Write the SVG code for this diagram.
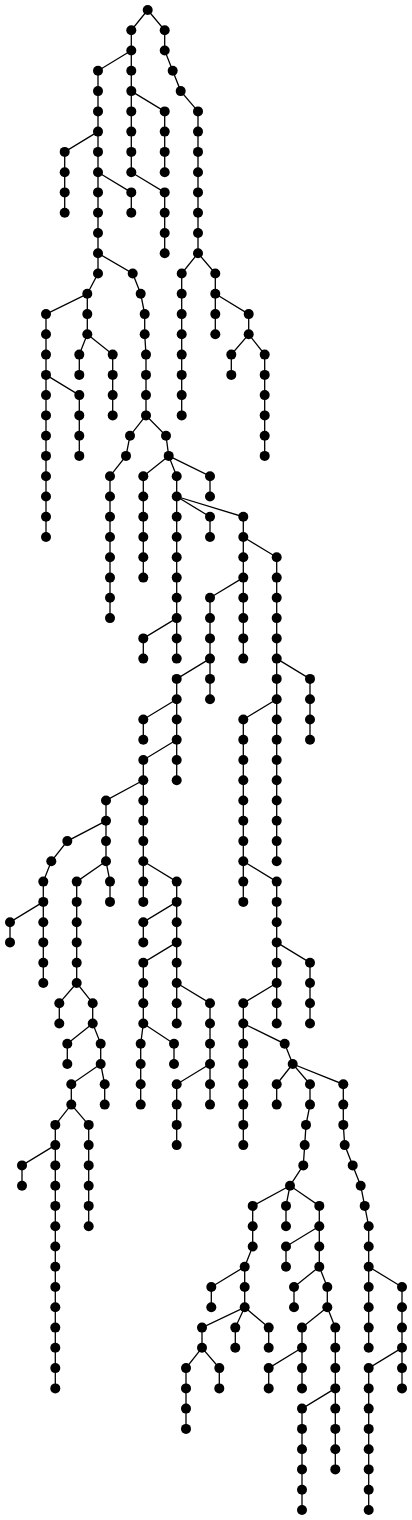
<svg xmlns="http://www.w3.org/2000/svg" width="412" height="1520" viewBox="0 0 412 1520">
<style>
.e path{fill:none;stroke:#000;stroke-width:1.3}
.n circle{fill:#000}
</style>
<rect width="412" height="1520" fill="#fff"/>
<g id="connectors" class="e">
<path d="M147.7 10 L131.3 30.3 V172.2 L164.7 192.4 V253.2"/>
<path d="M147.7 10 L164.7 30.3 V50.5 L172.7 70.8 L180.7 91.1 L198 111.4 V253.2"/>
<path d="M131.3 50.5 L98 70.8 V273.5 L87.3 293.8 V334.3 L112.7 354.6 V415.4"/>
<path d="M98 131.6 L64.7 151.9 V212.7"/>
<path d="M131.3 91.1 L164.7 111.4 V172.2"/>
<path d="M98 172.2 L131.3 192.4 V212.7"/>
<path d="M98 253.2 L132.7 273.5 L140.7 293.8 L144.7 314.1 V334.3 L146 354.6 V415.4 L166 435.7 L168.7 455.9 L176.7 476.2 V658.6"/>
<path d="M87.3 293.8 L46 314.1 V537"/>
<path d="M87.3 334.3 L79.3 354.6 V374.9"/>
<path d="M46 374.9 L79.3 395.1 V455.9"/>
<path d="M198 253.2 L181.7 273.5 V415.4"/>
<path d="M198 253.2 L215.3 273.5 V334.3"/>
<path d="M215.3 293.8 L248.7 314.1 V334.3 L264.7 354.6 V455.9"/>
<path d="M248.7 334.3 L231.3 354.6 V374.9"/>
<path d="M146 415.4 L130 435.7 L126 455.9 L110 476.2 V618.1"/>
<path d="M168.7 455.9 L143.3 476.2 V577.6"/>
<path d="M168.7 455.9 L210 476.2 V496.5"/>
<path d="M176.7 496.5 L210 516.8 V537"/>
<path d="M176.7 496.5 L243.3 516.8 V658.6"/>
<path d="M176.7 618.1 L143.3 638.4 V658.6"/>
<path d="M243.3 537 L276.7 557.3 V861.3"/>
<path d="M243.3 577.6 L210 597.8 V699.2"/>
<path d="M210 658.6 L176.7 678.9 V780.3"/>
<path d="M276.7 658.6 L310 678.9 V739.7"/>
<path d="M176.7 699.2 L143.3 719.5 V739.7"/>
<path d="M276.7 699.2 L243.3 719.5 V901.9"/>
<path d="M176.7 739.7 L143.3 760 V901.9"/>
<path d="M143.3 780.3 L106 800.5 V861.3 L110 881.6 V901.9"/>
<path d="M106 820.8 L67.3 841.1 L51.3 861.3 L43.3 881.6 V983"/>
<path d="M106 861.3 L76.7 881.6 V983 L92.7 1003.2 V1023.5 L100.7 1043.8 V1064 L71.3 1084.3 V1104.6 L55.3 1124.9 V1388.4"/>
<path d="M143.3 861.3 L176.7 881.6 V1023.5"/>
<path d="M243.3 861.3 L276.7 881.6 V1023.5"/>
<path d="M43.3 901.9 L10 922.2 V942.4"/>
<path d="M176.7 901.9 L143.3 922.2 V942.4"/>
<path d="M176.7 942.4 L143.3 962.7 V1023.5 L140.7 1043.8 V1104.6"/>
<path d="M276.7 942.4 L310 962.7 V1023.5"/>
<path d="M76.7 983 L59.3 1003.2 V1023.5"/>
<path d="M176.7 983 L210 1003.2 V1104.6"/>
<path d="M276.7 983 L243.3 1003.2 V1145.1"/>
<path d="M92.7 1023.5 L67.3 1043.8 V1064"/>
<path d="M143.3 1023.5 L174 1043.8 V1064"/>
<path d="M243.3 1023.5 L284.7 1043.8 L292.7 1064 L310 1084.3 V1104.6 L306 1124.9 L304.7 1145.1 L303.3 1165.4 L290 1185.7 L319.3 1205.9 V1266.7 L327.3 1287 V1307.3 L335.3 1327.6 V1469.4"/>
<path d="M100.7 1064 L104.7 1084.3 V1104.6"/>
<path d="M210 1064 L176.7 1084.3 V1145.1"/>
<path d="M292.7 1064 L276.7 1084.3 V1104.6"/>
<path d="M292.7 1064 L343.3 1084.3 V1124.9 L344.7 1145.1 L352.7 1165.4 L360.7 1185.7 L364.7 1205.9 L368.7 1226.2 V1347.8"/>
<path d="M71.3 1104.6 L88.7 1124.9 V1226.2"/>
<path d="M55.3 1145.1 L22 1165.4 V1185.7"/>
<path d="M290 1185.7 L252.7 1205.9 V1246.5 L244.7 1266.7 V1307.3 L202 1327.6 V1347.8 L186 1368.1 V1428.9"/>
<path d="M290 1185.7 L286 1205.9 V1226.2"/>
<path d="M319.3 1226.2 L286 1246.5 V1266.7"/>
<path d="M244.7 1266.7 L211.3 1287 V1307.3"/>
<path d="M319.3 1266.7 L294 1287 V1307.3"/>
<path d="M368.7 1266.7 L402 1287 V1347.8 L368.7 1368.1 V1510"/>
<path d="M402 1347.8 V1388.4"/>
<path d="M244.7 1307.3 L235.3 1327.6 V1347.8"/>
<path d="M244.7 1307.3 L268.7 1327.6 V1347.8"/>
<path d="M327.3 1307.3 L302 1327.6 V1388.4"/>
<path d="M302 1347.8 L268.7 1368.1 V1388.4"/>
<path d="M335.3 1388.4 L302 1408.6 V1510"/>
<path d="M202 1347.8 L219.3 1368.1 V1388.4"/>
</g>
<g id="nodes" class="n">
<g id="n0_148"><circle cx="147.7" cy="10" r="5"/></g>
<g id="n1_131"><circle cx="131.3" cy="30.3" r="5"/></g>
<g id="n1_165"><circle cx="164.7" cy="30.3" r="5"/></g>
<g id="n2_131"><circle cx="131.3" cy="50.5" r="5"/></g>
<g id="n2_165"><circle cx="164.7" cy="50.5" r="5"/></g>
<g id="n3_98"><circle cx="98" cy="70.8" r="5"/></g>
<g id="n3_131"><circle cx="131.3" cy="70.8" r="5"/></g>
<g id="n3_173"><circle cx="172.7" cy="70.8" r="5"/></g>
<g id="n4_98"><circle cx="98" cy="91.1" r="5"/></g>
<g id="n4_131"><circle cx="131.3" cy="91.1" r="5"/></g>
<g id="n4_181"><circle cx="180.7" cy="91.1" r="5"/></g>
<g id="n5_98"><circle cx="98" cy="111.4" r="5"/></g>
<g id="n5_131"><circle cx="131.3" cy="111.4" r="5"/></g>
<g id="n5_165"><circle cx="164.7" cy="111.4" r="5"/></g>
<g id="n5_198"><circle cx="198" cy="111.4" r="5"/></g>
<g id="n6_98"><circle cx="98" cy="131.6" r="5"/></g>
<g id="n6_131"><circle cx="131.3" cy="131.6" r="5"/></g>
<g id="n6_165"><circle cx="164.7" cy="131.6" r="5"/></g>
<g id="n6_198"><circle cx="198" cy="131.6" r="5"/></g>
<g id="n7_65"><circle cx="64.7" cy="151.9" r="5"/></g>
<g id="n7_98"><circle cx="98" cy="151.9" r="5"/></g>
<g id="n7_131"><circle cx="131.3" cy="151.9" r="5"/></g>
<g id="n7_165"><circle cx="164.7" cy="151.9" r="5"/></g>
<g id="n7_198"><circle cx="198" cy="151.9" r="5"/></g>
<g id="n8_65"><circle cx="64.7" cy="172.2" r="5"/></g>
<g id="n8_98"><circle cx="98" cy="172.2" r="5"/></g>
<g id="n8_131"><circle cx="131.3" cy="172.2" r="5"/></g>
<g id="n8_165"><circle cx="164.7" cy="172.2" r="5"/></g>
<g id="n8_198"><circle cx="198" cy="172.2" r="5"/></g>
<g id="n9_65"><circle cx="64.7" cy="192.4" r="5"/></g>
<g id="n9_98"><circle cx="98" cy="192.4" r="5"/></g>
<g id="n9_131"><circle cx="131.3" cy="192.4" r="5"/></g>
<g id="n9_165"><circle cx="164.7" cy="192.4" r="5"/></g>
<g id="n9_198"><circle cx="198" cy="192.4" r="5"/></g>
<g id="n10_65"><circle cx="64.7" cy="212.7" r="5"/></g>
<g id="n10_98"><circle cx="98" cy="212.7" r="5"/></g>
<g id="n10_131"><circle cx="131.3" cy="212.7" r="5"/></g>
<g id="n10_165"><circle cx="164.7" cy="212.7" r="5"/></g>
<g id="n10_198"><circle cx="198" cy="212.7" r="5"/></g>
<g id="n11_98"><circle cx="98" cy="233" r="5"/></g>
<g id="n11_165"><circle cx="164.7" cy="233" r="5"/></g>
<g id="n11_198"><circle cx="198" cy="233" r="5"/></g>
<g id="n12_98"><circle cx="98" cy="253.2" r="5"/></g>
<g id="n12_165"><circle cx="164.7" cy="253.2" r="5"/></g>
<g id="n12_198"><circle cx="198" cy="253.2" r="5"/></g>
<g id="n13_98"><circle cx="98" cy="273.5" r="5"/></g>
<g id="n13_133"><circle cx="132.7" cy="273.5" r="5"/></g>
<g id="n13_182"><circle cx="181.7" cy="273.5" r="5"/></g>
<g id="n13_215"><circle cx="215.3" cy="273.5" r="5"/></g>
<g id="n14_87"><circle cx="87.3" cy="293.8" r="5"/></g>
<g id="n14_141"><circle cx="140.7" cy="293.8" r="5"/></g>
<g id="n14_182"><circle cx="181.7" cy="293.8" r="5"/></g>
<g id="n14_215"><circle cx="215.3" cy="293.8" r="5"/></g>
<g id="n15_46"><circle cx="46" cy="314.1" r="5"/></g>
<g id="n15_87"><circle cx="87.3" cy="314.1" r="5"/></g>
<g id="n15_145"><circle cx="144.7" cy="314.1" r="5"/></g>
<g id="n15_182"><circle cx="181.7" cy="314.1" r="5"/></g>
<g id="n15_215"><circle cx="215.3" cy="314.1" r="5"/></g>
<g id="n15_249"><circle cx="248.7" cy="314.1" r="5"/></g>
<g id="n16_46"><circle cx="46" cy="334.3" r="5"/></g>
<g id="n16_87"><circle cx="87.3" cy="334.3" r="5"/></g>
<g id="n16_145"><circle cx="144.7" cy="334.3" r="5"/></g>
<g id="n16_182"><circle cx="181.7" cy="334.3" r="5"/></g>
<g id="n16_215"><circle cx="215.3" cy="334.3" r="5"/></g>
<g id="n16_249"><circle cx="248.7" cy="334.3" r="5"/></g>
<g id="n17_46"><circle cx="46" cy="354.6" r="5"/></g>
<g id="n17_79"><circle cx="79.3" cy="354.6" r="5"/></g>
<g id="n17_113"><circle cx="112.7" cy="354.6" r="5"/></g>
<g id="n17_146"><circle cx="146" cy="354.6" r="5"/></g>
<g id="n17_182"><circle cx="181.7" cy="354.6" r="5"/></g>
<g id="n17_231"><circle cx="231.3" cy="354.6" r="5"/></g>
<g id="n17_265"><circle cx="264.7" cy="354.6" r="5"/></g>
<g id="n18_46"><circle cx="46" cy="374.9" r="5"/></g>
<g id="n18_79"><circle cx="79.3" cy="374.9" r="5"/></g>
<g id="n18_113"><circle cx="112.7" cy="374.9" r="5"/></g>
<g id="n18_146"><circle cx="146" cy="374.9" r="5"/></g>
<g id="n18_182"><circle cx="181.7" cy="374.9" r="5"/></g>
<g id="n18_231"><circle cx="231.3" cy="374.9" r="5"/></g>
<g id="n18_265"><circle cx="264.7" cy="374.9" r="5"/></g>
<g id="n19_46"><circle cx="46" cy="395.1" r="5"/></g>
<g id="n19_79"><circle cx="79.3" cy="395.1" r="5"/></g>
<g id="n19_113"><circle cx="112.7" cy="395.1" r="5"/></g>
<g id="n19_146"><circle cx="146" cy="395.1" r="5"/></g>
<g id="n19_182"><circle cx="181.7" cy="395.1" r="5"/></g>
<g id="n19_265"><circle cx="264.7" cy="395.1" r="5"/></g>
<g id="n20_46"><circle cx="46" cy="415.4" r="5"/></g>
<g id="n20_79"><circle cx="79.3" cy="415.4" r="5"/></g>
<g id="n20_113"><circle cx="112.7" cy="415.4" r="5"/></g>
<g id="n20_146"><circle cx="146" cy="415.4" r="5"/></g>
<g id="n20_182"><circle cx="181.7" cy="415.4" r="5"/></g>
<g id="n20_265"><circle cx="264.7" cy="415.4" r="5"/></g>
<g id="n21_46"><circle cx="46" cy="435.7" r="5"/></g>
<g id="n21_79"><circle cx="79.3" cy="435.7" r="5"/></g>
<g id="n21_130"><circle cx="130" cy="435.7" r="5"/></g>
<g id="n21_166"><circle cx="166" cy="435.7" r="5"/></g>
<g id="n21_265"><circle cx="264.7" cy="435.7" r="5"/></g>
<g id="n22_46"><circle cx="46" cy="455.9" r="5"/></g>
<g id="n22_79"><circle cx="79.3" cy="455.9" r="5"/></g>
<g id="n22_126"><circle cx="126" cy="455.9" r="5"/></g>
<g id="n22_169"><circle cx="168.7" cy="455.9" r="5"/></g>
<g id="n22_265"><circle cx="264.7" cy="455.9" r="5"/></g>
<g id="n23_46"><circle cx="46" cy="476.2" r="5"/></g>
<g id="n23_110"><circle cx="110" cy="476.2" r="5"/></g>
<g id="n23_143"><circle cx="143.3" cy="476.2" r="5"/></g>
<g id="n23_177"><circle cx="176.7" cy="476.2" r="5"/></g>
<g id="n23_210"><circle cx="210" cy="476.2" r="5"/></g>
<g id="n24_46"><circle cx="46" cy="496.5" r="5"/></g>
<g id="n24_110"><circle cx="110" cy="496.5" r="5"/></g>
<g id="n24_143"><circle cx="143.3" cy="496.5" r="5"/></g>
<g id="n24_177"><circle cx="176.7" cy="496.5" r="5"/></g>
<g id="n24_210"><circle cx="210" cy="496.5" r="5"/></g>
<g id="n25_46"><circle cx="46" cy="516.8" r="5"/></g>
<g id="n25_110"><circle cx="110" cy="516.8" r="5"/></g>
<g id="n25_143"><circle cx="143.3" cy="516.8" r="5"/></g>
<g id="n25_177"><circle cx="176.7" cy="516.8" r="5"/></g>
<g id="n25_210"><circle cx="210" cy="516.8" r="5"/></g>
<g id="n25_243"><circle cx="243.3" cy="516.8" r="5"/></g>
<g id="n26_46"><circle cx="46" cy="537" r="5"/></g>
<g id="n26_110"><circle cx="110" cy="537" r="5"/></g>
<g id="n26_143"><circle cx="143.3" cy="537" r="5"/></g>
<g id="n26_177"><circle cx="176.7" cy="537" r="5"/></g>
<g id="n26_210"><circle cx="210" cy="537" r="5"/></g>
<g id="n26_243"><circle cx="243.3" cy="537" r="5"/></g>
<g id="n27_110"><circle cx="110" cy="557.3" r="5"/></g>
<g id="n27_143"><circle cx="143.3" cy="557.3" r="5"/></g>
<g id="n27_177"><circle cx="176.7" cy="557.3" r="5"/></g>
<g id="n27_243"><circle cx="243.3" cy="557.3" r="5"/></g>
<g id="n27_277"><circle cx="276.7" cy="557.3" r="5"/></g>
<g id="n28_110"><circle cx="110" cy="577.6" r="5"/></g>
<g id="n28_143"><circle cx="143.3" cy="577.6" r="5"/></g>
<g id="n28_177"><circle cx="176.7" cy="577.6" r="5"/></g>
<g id="n28_243"><circle cx="243.3" cy="577.6" r="5"/></g>
<g id="n28_277"><circle cx="276.7" cy="577.6" r="5"/></g>
<g id="n29_110"><circle cx="110" cy="597.8" r="5"/></g>
<g id="n29_177"><circle cx="176.7" cy="597.8" r="5"/></g>
<g id="n29_210"><circle cx="210" cy="597.8" r="5"/></g>
<g id="n29_243"><circle cx="243.3" cy="597.8" r="5"/></g>
<g id="n29_277"><circle cx="276.7" cy="597.8" r="5"/></g>
<g id="n30_110"><circle cx="110" cy="618.1" r="5"/></g>
<g id="n30_177"><circle cx="176.7" cy="618.1" r="5"/></g>
<g id="n30_210"><circle cx="210" cy="618.1" r="5"/></g>
<g id="n30_243"><circle cx="243.3" cy="618.1" r="5"/></g>
<g id="n30_277"><circle cx="276.7" cy="618.1" r="5"/></g>
<g id="n31_143"><circle cx="143.3" cy="638.4" r="5"/></g>
<g id="n31_177"><circle cx="176.7" cy="638.4" r="5"/></g>
<g id="n31_210"><circle cx="210" cy="638.4" r="5"/></g>
<g id="n31_243"><circle cx="243.3" cy="638.4" r="5"/></g>
<g id="n31_277"><circle cx="276.7" cy="638.4" r="5"/></g>
<g id="n32_143"><circle cx="143.3" cy="658.6" r="5"/></g>
<g id="n32_177"><circle cx="176.7" cy="658.6" r="5"/></g>
<g id="n32_210"><circle cx="210" cy="658.6" r="5"/></g>
<g id="n32_243"><circle cx="243.3" cy="658.6" r="5"/></g>
<g id="n32_277"><circle cx="276.7" cy="658.6" r="5"/></g>
<g id="n33_177"><circle cx="176.7" cy="678.9" r="5"/></g>
<g id="n33_210"><circle cx="210" cy="678.9" r="5"/></g>
<g id="n33_277"><circle cx="276.7" cy="678.9" r="5"/></g>
<g id="n33_310"><circle cx="310" cy="678.9" r="5"/></g>
<g id="n34_177"><circle cx="176.7" cy="699.2" r="5"/></g>
<g id="n34_210"><circle cx="210" cy="699.2" r="5"/></g>
<g id="n34_277"><circle cx="276.7" cy="699.2" r="5"/></g>
<g id="n34_310"><circle cx="310" cy="699.2" r="5"/></g>
<g id="n35_143"><circle cx="143.3" cy="719.5" r="5"/></g>
<g id="n35_177"><circle cx="176.7" cy="719.5" r="5"/></g>
<g id="n35_243"><circle cx="243.3" cy="719.5" r="5"/></g>
<g id="n35_277"><circle cx="276.7" cy="719.5" r="5"/></g>
<g id="n35_310"><circle cx="310" cy="719.5" r="5"/></g>
<g id="n36_143"><circle cx="143.3" cy="739.7" r="5"/></g>
<g id="n36_177"><circle cx="176.7" cy="739.7" r="5"/></g>
<g id="n36_243"><circle cx="243.3" cy="739.7" r="5"/></g>
<g id="n36_277"><circle cx="276.7" cy="739.7" r="5"/></g>
<g id="n36_310"><circle cx="310" cy="739.7" r="5"/></g>
<g id="n37_143"><circle cx="143.3" cy="760" r="5"/></g>
<g id="n37_177"><circle cx="176.7" cy="760" r="5"/></g>
<g id="n37_243"><circle cx="243.3" cy="760" r="5"/></g>
<g id="n37_277"><circle cx="276.7" cy="760" r="5"/></g>
<g id="n38_143"><circle cx="143.3" cy="780.3" r="5"/></g>
<g id="n38_177"><circle cx="176.7" cy="780.3" r="5"/></g>
<g id="n38_243"><circle cx="243.3" cy="780.3" r="5"/></g>
<g id="n38_277"><circle cx="276.7" cy="780.3" r="5"/></g>
<g id="n39_106"><circle cx="106" cy="800.5" r="5"/></g>
<g id="n39_143"><circle cx="143.3" cy="800.5" r="5"/></g>
<g id="n39_243"><circle cx="243.3" cy="800.5" r="5"/></g>
<g id="n39_277"><circle cx="276.7" cy="800.5" r="5"/></g>
<g id="n40_106"><circle cx="106" cy="820.8" r="5"/></g>
<g id="n40_143"><circle cx="143.3" cy="820.8" r="5"/></g>
<g id="n40_243"><circle cx="243.3" cy="820.8" r="5"/></g>
<g id="n40_277"><circle cx="276.7" cy="820.8" r="5"/></g>
<g id="n41_67"><circle cx="67.3" cy="841.1" r="5"/></g>
<g id="n41_106"><circle cx="106" cy="841.1" r="5"/></g>
<g id="n41_143"><circle cx="143.3" cy="841.1" r="5"/></g>
<g id="n41_243"><circle cx="243.3" cy="841.1" r="5"/></g>
<g id="n41_277"><circle cx="276.7" cy="841.1" r="5"/></g>
<g id="n42_51"><circle cx="51.3" cy="861.3" r="5"/></g>
<g id="n42_106"><circle cx="106" cy="861.3" r="5"/></g>
<g id="n42_143"><circle cx="143.3" cy="861.3" r="5"/></g>
<g id="n42_243"><circle cx="243.3" cy="861.3" r="5"/></g>
<g id="n42_277"><circle cx="276.7" cy="861.3" r="5"/></g>
<g id="n43_43"><circle cx="43.3" cy="881.6" r="5"/></g>
<g id="n43_77"><circle cx="76.7" cy="881.6" r="5"/></g>
<g id="n43_110"><circle cx="110" cy="881.6" r="5"/></g>
<g id="n43_143"><circle cx="143.3" cy="881.6" r="5"/></g>
<g id="n43_177"><circle cx="176.7" cy="881.6" r="5"/></g>
<g id="n43_243"><circle cx="243.3" cy="881.6" r="5"/></g>
<g id="n43_277"><circle cx="276.7" cy="881.6" r="5"/></g>
<g id="n44_43"><circle cx="43.3" cy="901.9" r="5"/></g>
<g id="n44_77"><circle cx="76.7" cy="901.9" r="5"/></g>
<g id="n44_110"><circle cx="110" cy="901.9" r="5"/></g>
<g id="n44_143"><circle cx="143.3" cy="901.9" r="5"/></g>
<g id="n44_177"><circle cx="176.7" cy="901.9" r="5"/></g>
<g id="n44_243"><circle cx="243.3" cy="901.9" r="5"/></g>
<g id="n44_277"><circle cx="276.7" cy="901.9" r="5"/></g>
<g id="n45_10"><circle cx="10" cy="922.2" r="5"/></g>
<g id="n45_43"><circle cx="43.3" cy="922.2" r="5"/></g>
<g id="n45_77"><circle cx="76.7" cy="922.2" r="5"/></g>
<g id="n45_143"><circle cx="143.3" cy="922.2" r="5"/></g>
<g id="n45_177"><circle cx="176.7" cy="922.2" r="5"/></g>
<g id="n45_277"><circle cx="276.7" cy="922.2" r="5"/></g>
<g id="n46_10"><circle cx="10" cy="942.4" r="5"/></g>
<g id="n46_43"><circle cx="43.3" cy="942.4" r="5"/></g>
<g id="n46_77"><circle cx="76.7" cy="942.4" r="5"/></g>
<g id="n46_143"><circle cx="143.3" cy="942.4" r="5"/></g>
<g id="n46_177"><circle cx="176.7" cy="942.4" r="5"/></g>
<g id="n46_277"><circle cx="276.7" cy="942.4" r="5"/></g>
<g id="n47_43"><circle cx="43.3" cy="962.7" r="5"/></g>
<g id="n47_77"><circle cx="76.7" cy="962.7" r="5"/></g>
<g id="n47_143"><circle cx="143.3" cy="962.7" r="5"/></g>
<g id="n47_177"><circle cx="176.7" cy="962.7" r="5"/></g>
<g id="n47_277"><circle cx="276.7" cy="962.7" r="5"/></g>
<g id="n47_310"><circle cx="310" cy="962.7" r="5"/></g>
<g id="n48_43"><circle cx="43.3" cy="983" r="5"/></g>
<g id="n48_77"><circle cx="76.7" cy="983" r="5"/></g>
<g id="n48_143"><circle cx="143.3" cy="983" r="5"/></g>
<g id="n48_177"><circle cx="176.7" cy="983" r="5"/></g>
<g id="n48_277"><circle cx="276.7" cy="983" r="5"/></g>
<g id="n48_310"><circle cx="310" cy="983" r="5"/></g>
<g id="n49_59"><circle cx="59.3" cy="1003.2" r="5"/></g>
<g id="n49_93"><circle cx="92.7" cy="1003.2" r="5"/></g>
<g id="n49_143"><circle cx="143.3" cy="1003.2" r="5"/></g>
<g id="n49_177"><circle cx="176.7" cy="1003.2" r="5"/></g>
<g id="n49_210"><circle cx="210" cy="1003.2" r="5"/></g>
<g id="n49_243"><circle cx="243.3" cy="1003.2" r="5"/></g>
<g id="n49_277"><circle cx="276.7" cy="1003.2" r="5"/></g>
<g id="n49_310"><circle cx="310" cy="1003.2" r="5"/></g>
<g id="n50_59"><circle cx="59.3" cy="1023.5" r="5"/></g>
<g id="n50_93"><circle cx="92.7" cy="1023.5" r="5"/></g>
<g id="n50_143"><circle cx="143.3" cy="1023.5" r="5"/></g>
<g id="n50_177"><circle cx="176.7" cy="1023.5" r="5"/></g>
<g id="n50_210"><circle cx="210" cy="1023.5" r="5"/></g>
<g id="n50_243"><circle cx="243.3" cy="1023.5" r="5"/></g>
<g id="n50_277"><circle cx="276.7" cy="1023.5" r="5"/></g>
<g id="n50_310"><circle cx="310" cy="1023.5" r="5"/></g>
<g id="n51_67"><circle cx="67.3" cy="1043.8" r="5"/></g>
<g id="n51_101"><circle cx="100.7" cy="1043.8" r="5"/></g>
<g id="n51_141"><circle cx="140.7" cy="1043.8" r="5"/></g>
<g id="n51_174"><circle cx="174" cy="1043.8" r="5"/></g>
<g id="n51_210"><circle cx="210" cy="1043.8" r="5"/></g>
<g id="n51_243"><circle cx="243.3" cy="1043.8" r="5"/></g>
<g id="n51_285"><circle cx="284.7" cy="1043.8" r="5"/></g>
<g id="n52_67"><circle cx="67.3" cy="1064" r="5"/></g>
<g id="n52_101"><circle cx="100.7" cy="1064" r="5"/></g>
<g id="n52_141"><circle cx="140.7" cy="1064" r="5"/></g>
<g id="n52_174"><circle cx="174" cy="1064" r="5"/></g>
<g id="n52_210"><circle cx="210" cy="1064" r="5"/></g>
<g id="n52_243"><circle cx="243.3" cy="1064" r="5"/></g>
<g id="n52_293"><circle cx="292.7" cy="1064" r="5"/></g>
<g id="n53_71"><circle cx="71.3" cy="1084.3" r="5"/></g>
<g id="n53_105"><circle cx="104.7" cy="1084.3" r="5"/></g>
<g id="n53_141"><circle cx="140.7" cy="1084.3" r="5"/></g>
<g id="n53_177"><circle cx="176.7" cy="1084.3" r="5"/></g>
<g id="n53_210"><circle cx="210" cy="1084.3" r="5"/></g>
<g id="n53_243"><circle cx="243.3" cy="1084.3" r="5"/></g>
<g id="n53_277"><circle cx="276.7" cy="1084.3" r="5"/></g>
<g id="n53_310"><circle cx="310" cy="1084.3" r="5"/></g>
<g id="n53_343"><circle cx="343.3" cy="1084.3" r="5"/></g>
<g id="n54_71"><circle cx="71.3" cy="1104.6" r="5"/></g>
<g id="n54_105"><circle cx="104.7" cy="1104.6" r="5"/></g>
<g id="n54_141"><circle cx="140.7" cy="1104.6" r="5"/></g>
<g id="n54_177"><circle cx="176.7" cy="1104.6" r="5"/></g>
<g id="n54_210"><circle cx="210" cy="1104.6" r="5"/></g>
<g id="n54_243"><circle cx="243.3" cy="1104.6" r="5"/></g>
<g id="n54_277"><circle cx="276.7" cy="1104.6" r="5"/></g>
<g id="n54_310"><circle cx="310" cy="1104.6" r="5"/></g>
<g id="n54_343"><circle cx="343.3" cy="1104.6" r="5"/></g>
<g id="n55_55"><circle cx="55.3" cy="1124.9" r="5"/></g>
<g id="n55_89"><circle cx="88.7" cy="1124.9" r="5"/></g>
<g id="n55_177"><circle cx="176.7" cy="1124.9" r="5"/></g>
<g id="n55_243"><circle cx="243.3" cy="1124.9" r="5"/></g>
<g id="n55_306"><circle cx="306" cy="1124.9" r="5"/></g>
<g id="n55_343"><circle cx="343.3" cy="1124.9" r="5"/></g>
<g id="n56_55"><circle cx="55.3" cy="1145.1" r="5"/></g>
<g id="n56_89"><circle cx="88.7" cy="1145.1" r="5"/></g>
<g id="n56_177"><circle cx="176.7" cy="1145.1" r="5"/></g>
<g id="n56_243"><circle cx="243.3" cy="1145.1" r="5"/></g>
<g id="n56_305"><circle cx="304.7" cy="1145.1" r="5"/></g>
<g id="n56_345"><circle cx="344.7" cy="1145.1" r="5"/></g>
<g id="n57_22"><circle cx="22" cy="1165.4" r="5"/></g>
<g id="n57_55"><circle cx="55.3" cy="1165.4" r="5"/></g>
<g id="n57_89"><circle cx="88.7" cy="1165.4" r="5"/></g>
<g id="n57_303"><circle cx="303.3" cy="1165.4" r="5"/></g>
<g id="n57_353"><circle cx="352.7" cy="1165.4" r="5"/></g>
<g id="n58_22"><circle cx="22" cy="1185.7" r="5"/></g>
<g id="n58_55"><circle cx="55.3" cy="1185.7" r="5"/></g>
<g id="n58_89"><circle cx="88.7" cy="1185.7" r="5"/></g>
<g id="n58_290"><circle cx="290" cy="1185.7" r="5"/></g>
<g id="n58_361"><circle cx="360.7" cy="1185.7" r="5"/></g>
<g id="n59_55"><circle cx="55.3" cy="1205.9" r="5"/></g>
<g id="n59_89"><circle cx="88.7" cy="1205.9" r="5"/></g>
<g id="n59_253"><circle cx="252.7" cy="1205.9" r="5"/></g>
<g id="n59_286"><circle cx="286" cy="1205.9" r="5"/></g>
<g id="n59_319"><circle cx="319.3" cy="1205.9" r="5"/></g>
<g id="n59_365"><circle cx="364.7" cy="1205.9" r="5"/></g>
<g id="n60_55"><circle cx="55.3" cy="1226.2" r="5"/></g>
<g id="n60_89"><circle cx="88.7" cy="1226.2" r="5"/></g>
<g id="n60_253"><circle cx="252.7" cy="1226.2" r="5"/></g>
<g id="n60_286"><circle cx="286" cy="1226.2" r="5"/></g>
<g id="n60_319"><circle cx="319.3" cy="1226.2" r="5"/></g>
<g id="n60_369"><circle cx="368.7" cy="1226.2" r="5"/></g>
<g id="n61_55"><circle cx="55.3" cy="1246.5" r="5"/></g>
<g id="n61_253"><circle cx="252.7" cy="1246.5" r="5"/></g>
<g id="n61_286"><circle cx="286" cy="1246.5" r="5"/></g>
<g id="n61_319"><circle cx="319.3" cy="1246.5" r="5"/></g>
<g id="n61_369"><circle cx="368.7" cy="1246.5" r="5"/></g>
<g id="n62_55"><circle cx="55.3" cy="1266.7" r="5"/></g>
<g id="n62_245"><circle cx="244.7" cy="1266.7" r="5"/></g>
<g id="n62_286"><circle cx="286" cy="1266.7" r="5"/></g>
<g id="n62_319"><circle cx="319.3" cy="1266.7" r="5"/></g>
<g id="n62_369"><circle cx="368.7" cy="1266.7" r="5"/></g>
<g id="n63_55"><circle cx="55.3" cy="1287" r="5"/></g>
<g id="n63_211"><circle cx="211.3" cy="1287" r="5"/></g>
<g id="n63_245"><circle cx="244.7" cy="1287" r="5"/></g>
<g id="n63_294"><circle cx="294" cy="1287" r="5"/></g>
<g id="n63_327"><circle cx="327.3" cy="1287" r="5"/></g>
<g id="n63_369"><circle cx="368.7" cy="1287" r="5"/></g>
<g id="n63_402"><circle cx="402" cy="1287" r="5"/></g>
<g id="n64_55"><circle cx="55.3" cy="1307.3" r="5"/></g>
<g id="n64_211"><circle cx="211.3" cy="1307.3" r="5"/></g>
<g id="n64_245"><circle cx="244.7" cy="1307.3" r="5"/></g>
<g id="n64_294"><circle cx="294" cy="1307.3" r="5"/></g>
<g id="n64_327"><circle cx="327.3" cy="1307.3" r="5"/></g>
<g id="n64_369"><circle cx="368.7" cy="1307.3" r="5"/></g>
<g id="n64_402"><circle cx="402" cy="1307.3" r="5"/></g>
<g id="n65_55"><circle cx="55.3" cy="1327.6" r="5"/></g>
<g id="n65_202"><circle cx="202" cy="1327.6" r="5"/></g>
<g id="n65_235"><circle cx="235.3" cy="1327.6" r="5"/></g>
<g id="n65_269"><circle cx="268.7" cy="1327.6" r="5"/></g>
<g id="n65_302"><circle cx="302" cy="1327.6" r="5"/></g>
<g id="n65_335"><circle cx="335.3" cy="1327.6" r="5"/></g>
<g id="n65_369"><circle cx="368.7" cy="1327.6" r="5"/></g>
<g id="n65_402"><circle cx="402" cy="1327.6" r="5"/></g>
<g id="n66_55"><circle cx="55.3" cy="1347.8" r="5"/></g>
<g id="n66_202"><circle cx="202" cy="1347.8" r="5"/></g>
<g id="n66_235"><circle cx="235.3" cy="1347.8" r="5"/></g>
<g id="n66_269"><circle cx="268.7" cy="1347.8" r="5"/></g>
<g id="n66_302"><circle cx="302" cy="1347.8" r="5"/></g>
<g id="n66_335"><circle cx="335.3" cy="1347.8" r="5"/></g>
<g id="n66_369"><circle cx="368.7" cy="1347.8" r="5"/></g>
<g id="n66_402"><circle cx="402" cy="1347.8" r="5"/></g>
<g id="n67_55"><circle cx="55.3" cy="1368.1" r="5"/></g>
<g id="n67_186"><circle cx="186" cy="1368.1" r="5"/></g>
<g id="n67_219"><circle cx="219.3" cy="1368.1" r="5"/></g>
<g id="n67_269"><circle cx="268.7" cy="1368.1" r="5"/></g>
<g id="n67_302"><circle cx="302" cy="1368.1" r="5"/></g>
<g id="n67_335"><circle cx="335.3" cy="1368.1" r="5"/></g>
<g id="n67_369"><circle cx="368.7" cy="1368.1" r="5"/></g>
<g id="n67_402"><circle cx="402" cy="1368.1" r="5"/></g>
<g id="n68_55"><circle cx="55.3" cy="1388.4" r="5"/></g>
<g id="n68_186"><circle cx="186" cy="1388.4" r="5"/></g>
<g id="n68_219"><circle cx="219.3" cy="1388.4" r="5"/></g>
<g id="n68_269"><circle cx="268.7" cy="1388.4" r="5"/></g>
<g id="n68_302"><circle cx="302" cy="1388.4" r="5"/></g>
<g id="n68_335"><circle cx="335.3" cy="1388.4" r="5"/></g>
<g id="n68_369"><circle cx="368.7" cy="1388.4" r="5"/></g>
<g id="n68_402"><circle cx="402" cy="1388.4" r="5"/></g>
<g id="n69_186"><circle cx="186" cy="1408.6" r="5"/></g>
<g id="n69_302"><circle cx="302" cy="1408.6" r="5"/></g>
<g id="n69_335"><circle cx="335.3" cy="1408.6" r="5"/></g>
<g id="n69_369"><circle cx="368.7" cy="1408.6" r="5"/></g>
<g id="n70_186"><circle cx="186" cy="1428.9" r="5"/></g>
<g id="n70_302"><circle cx="302" cy="1428.9" r="5"/></g>
<g id="n70_335"><circle cx="335.3" cy="1428.9" r="5"/></g>
<g id="n70_369"><circle cx="368.7" cy="1428.9" r="5"/></g>
<g id="n71_302"><circle cx="302" cy="1449.2" r="5"/></g>
<g id="n71_335"><circle cx="335.3" cy="1449.2" r="5"/></g>
<g id="n71_369"><circle cx="368.7" cy="1449.2" r="5"/></g>
<g id="n72_302"><circle cx="302" cy="1469.4" r="5"/></g>
<g id="n72_335"><circle cx="335.3" cy="1469.4" r="5"/></g>
<g id="n72_369"><circle cx="368.7" cy="1469.4" r="5"/></g>
<g id="n73_302"><circle cx="302" cy="1489.7" r="5"/></g>
<g id="n73_369"><circle cx="368.7" cy="1489.7" r="5"/></g>
<g id="n74_302"><circle cx="302" cy="1510" r="5"/></g>
<g id="n74_369"><circle cx="368.7" cy="1510" r="5"/></g>
</g>
</svg>
